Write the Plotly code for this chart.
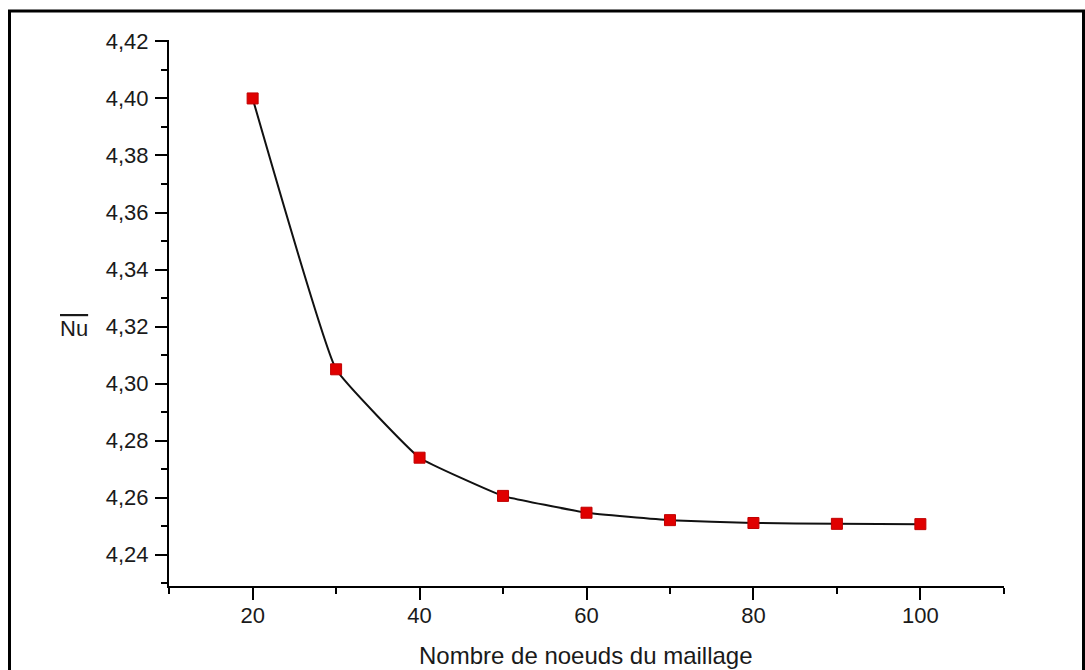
import plotly.graph_objects as go

# ---- data ----
nodes = [20, 30, 40, 50, 60, 70, 80, 90, 100]
nu_mean = [4.400, 4.305, 4.274, 4.2606, 4.2547, 4.2521, 4.2511, 4.2508, 4.2507]

x_major_ticks = [20, 40, 60, 80, 100]
x_minor_ticks = [10, 30, 50, 70, 90, 110]
y_major_ticks = [4.24, 4.26, 4.28, 4.30, 4.32, 4.34, 4.36, 4.38, 4.40, 4.42]
y_minor_ticks = [4.23, 4.25, 4.27, 4.29, 4.31, 4.33, 4.35, 4.37, 4.39, 4.41]

x_title = "Nombre de noeuds du maillage"
y_title = "Nu"

# ---- layout geometry (pixels) ----
W, H = 1085, 670
L, R, T, B = 169, 81, 40, 84
pw, ph = W - L - R, H - T - B


def paper(px, py):
    return (px - L) / pw, (H - B - py) / ph


FONT = "Liberation Sans, Arial, sans-serif"
TXT = "#1a1a1a"

fig = go.Figure()
fig.add_trace(go.Scatter(
    x=nodes, y=nu_mean, mode="lines+markers",
    line=dict(color="#111111", width=2, shape="spline", smoothing=0.3),
    marker=dict(symbol="square", size=11, color="#e00000",
                line=dict(color="#c00000", width=1)),
    showlegend=False,
))

fx0, fy0 = paper(9.5, 676)
fx1, fy1 = paper(1083.5, 11)
fig.add_shape(type="rect", xref="paper", yref="paper",
              x0=fx0, y0=fy0, x1=fx1, y1=fy1,
              line=dict(color="black", width=3), layer="below")

ax, ay = paper(586, 655)
fig.add_annotation(xref="paper", yref="paper", x=ax, y=ay, text=x_title,
                   showarrow=False, font=dict(family=FONT, size=24, color=TXT),
                   xanchor="center", yanchor="middle")
tx, ty = paper(74, 328)
fig.add_annotation(xref="paper", yref="paper", x=tx, y=ty,
                   text='<span style="text-decoration:overline">' + y_title + '</span>',
                   showarrow=False, font=dict(family=FONT, size=22, color=TXT),
                   xanchor="center", yanchor="middle")

axis_common = dict(
    showline=True, linecolor="black", linewidth=2, mirror=False,
    showgrid=False, zeroline=False, ticks="outside", ticklen=12,
    tickwidth=2, tickcolor="black",
    tickfont=dict(family=FONT, size=22, color=TXT),
)

fig.update_layout(
    width=W, height=H,
    margin=dict(l=L, r=R, t=T, b=B, pad=0),
    paper_bgcolor="white", plot_bgcolor="white",
    separators=", ",
    xaxis=dict(range=[9.98, 110.02], tickmode="array", tickvals=x_major_ticks,
               ticklabelstandoff=-3,
               minor=dict(tickmode="array", tickvals=x_minor_ticks, ticks="outside",
                          ticklen=6, tickwidth=2, tickcolor="black", showgrid=False),
               **axis_common),
    yaxis=dict(range=[4.229, 4.4205], tickmode="array", tickvals=y_major_ticks,
               tickformat=".2f", ticklabelstandoff=2,
               minor=dict(tickmode="array", tickvals=y_minor_ticks, ticks="outside",
                          ticklen=6, tickwidth=2, tickcolor="black", showgrid=False),
               **axis_common),
)

fig.write_html("out.html")
